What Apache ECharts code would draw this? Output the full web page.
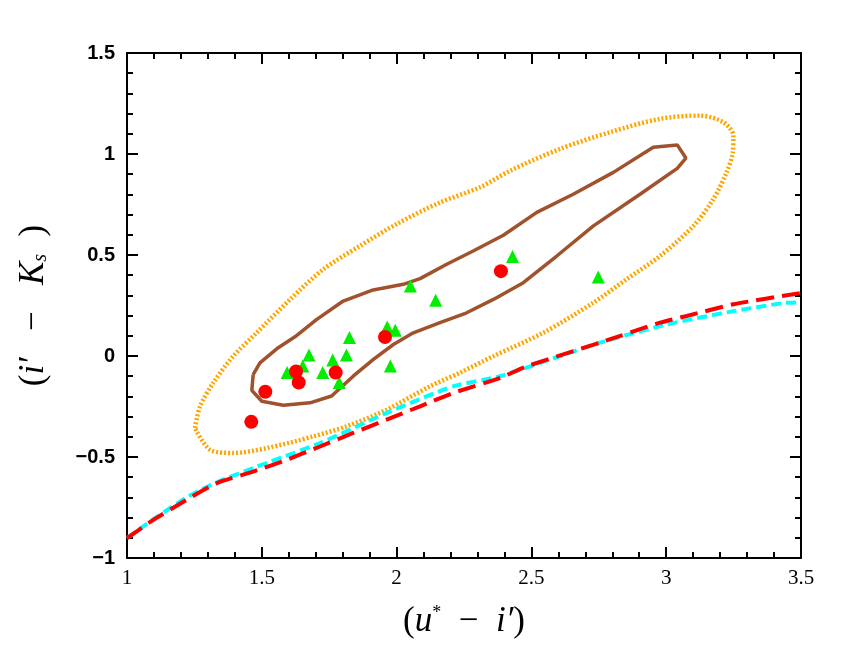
<!DOCTYPE html>
<html>
<head>
<meta charset="utf-8">
<script src="https://cdn.jsdelivr.net/npm/echarts@6/dist/echarts.min.js"></script>
<style>
  html, body { margin: 0; padding: 0; background: #fff; }
  #chart { width: 860px; height: 664px; }
</style>
</head>
<body>
<div id="chart"></div>
<script>
// red circles
var redX = [1.461, 1.513, 1.627, 1.637, 1.774, 1.957, 2.387];
var redY = [-0.326, -0.177, -0.077, -0.131, -0.082, 0.094, 0.420];

// green triangles
var greenX = [1.594, 1.652, 1.675, 1.726, 1.763, 1.814, 1.825, 1.787, 1.965, 1.995, 1.977, 2.051, 2.145, 2.430, 2.748];
var greenY = [-0.082, -0.049, 0.005, -0.082, -0.020, 0.005, 0.092, -0.131, 0.144, 0.128, -0.049, 0.346, 0.276, 0.493, 0.391];

// brown contour (closed)
var contourX = [1.468, 1.493, 1.561, 1.623, 1.704, 1.802, 1.913, 2.025, 2.087, 2.186, 2.284, 2.396, 2.520, 2.655, 2.804, 2.952, 3.041, 3.073, 3.041,
  2.903, 2.730, 2.594, 2.470, 2.359, 2.260, 2.161, 2.062, 1.988, 1.914, 1.839, 1.759, 1.679, 1.580, 1.500, 1.463, 1.468];
var contourY = [-0.092, -0.034, 0.041, 0.095, 0.181, 0.272, 0.327, 0.355, 0.383, 0.454, 0.520, 0.598, 0.711, 0.801, 0.909, 1.033, 1.045, 0.980, 0.929,
  0.801, 0.644, 0.495, 0.363, 0.280, 0.214, 0.165, 0.115, 0.057, -0.017, -0.100, -0.198, -0.232, -0.244, -0.224, -0.170, -0.092];

// orange dotted ellipse (closed)
var ellipseX = [1.252, 1.271, 1.320, 1.394, 1.481, 1.605, 1.728, 1.864, 2.000, 2.161, 2.309, 2.421, 2.606, 2.792, 2.977, 3.125, 3.212, 3.249, 3.247,
  3.224, 3.175, 3.101, 2.977, 2.853, 2.730, 2.544, 2.359, 2.235, 2.124, 1.963, 1.815, 1.691, 1.518, 1.394, 1.308, 1.252];
var ellipseY = [-0.356, -0.249, -0.133, -0.001, 0.115, 0.280, 0.429, 0.545, 0.653, 0.760, 0.835, 0.917, 1.025, 1.108, 1.174, 1.190, 1.157, 1.091, 1.008,
  0.909, 0.777, 0.644, 0.495, 0.380, 0.264, 0.115, -0.001, -0.083, -0.150, -0.266, -0.348, -0.398, -0.456, -0.480, -0.464, -0.356];

// red long-dashed curve
var redLineX = [1.0, 1.098, 1.221, 1.333, 1.468, 1.592, 1.716, 1.839, 1.963, 2.087, 2.210, 2.384, 2.483, 2.754, 2.977, 3.076, 3.249, 3.5];
var redLineY = [-0.902, -0.811, -0.712, -0.629, -0.572, -0.514, -0.448, -0.381, -0.315, -0.249, -0.183, -0.108, -0.051, 0.066, 0.165, 0.198, 0.256, 0.312];

// cyan short-dashed curve
var cyanLineX = [1.0, 1.098, 1.221, 1.333, 1.468, 1.716, 1.963, 2.210, 2.384, 2.754, 3.002, 3.249, 3.435, 3.5];
var cyanLineY = [-0.902, -0.808, -0.700, -0.625, -0.555, -0.431, -0.282, -0.150, -0.100, 0.066, 0.156, 0.222, 0.262, 0.266];

function pairs(xs, ys) {
  return xs.map(function (x, i) { return [x, ys[i]]; });
}

function minus(v) {
  return String(v).replace('-', '\u2212');
}

var chart = echarts.init(document.getElementById('chart'));

var tickBase = {
  axisLine: { show: true, onZero: false, lineStyle: { color: '#000', width: 2 } },
  axisTick: { show: true, inside: true, length: 11, lineStyle: { color: '#000', width: 2 } },
  minorTick: { show: true, splitNumber: 5, length: 6, lineStyle: { color: '#000', width: 2 } },
  splitLine: { show: false }
};

var option = {
  animation: false,
  backgroundColor: '#fff',
  grid: { left: 127, right: 59, top: 53, bottom: 106, containLabel: false },
  xAxis: [
    Object.assign({
      type: 'value', min: 1, max: 3.5, interval: 0.5, position: 'bottom',
      axisLabel: { color: '#000', fontFamily: 'Liberation Serif', fontSize: 21, margin: 10 },
      name: '{p|(}{i|u}{s|*}{p|  \u2212  }{i|i\u2032}{p|)}',
      nameLocation: 'middle', nameGap: 46,
      nameTextStyle: {
        rich: {
          p: { fontFamily: 'Liberation Serif', fontSize: 35, color: '#000' },
          i: { fontFamily: 'Liberation Serif', fontStyle: 'italic', fontSize: 35, color: '#000' },
          s: { fontFamily: 'Liberation Serif', fontSize: 18, color: '#000', verticalAlign: 'top', padding: [0, 0, 12, 0] }
        }
      }
    }, tickBase),
    Object.assign({
      type: 'value', min: 1, max: 3.5, interval: 0.5, position: 'top',
      axisLabel: { show: false }
    }, tickBase)
  ],
  yAxis: [
    Object.assign({
      type: 'value', min: -1, max: 1.5, interval: 0.5, position: 'left',
      axisLabel: { color: '#000', fontFamily: 'Liberation Sans', fontWeight: 'bold', fontSize: 20, margin: 12, formatter: minus },
      name: '{p|(}{i|i\u2032}{p|   \u2212   }{k|K}{s|s}{p|  )}',
      nameLocation: 'middle', nameGap: 76, nameRotate: 90,
      nameTextStyle: {
        rich: {
          p: { fontFamily: 'Liberation Serif', fontSize: 35, color: '#000' },
          i: { fontFamily: 'Liberation Serif', fontStyle: 'italic', fontSize: 35, color: '#000' },
          k: { fontFamily: 'Liberation Serif', fontStyle: 'italic', fontSize: 35, color: '#000' },
          s: { fontFamily: 'Liberation Serif', fontStyle: 'italic', fontSize: 20, color: '#000', padding: [14, 0, 0, 0] }
        }
      }
    }, tickBase),
    Object.assign({
      type: 'value', min: -1, max: 1.5, interval: 0.5, position: 'right',
      axisLabel: { show: false }
    }, tickBase)
  ],
  series: [
    {
      type: 'line', data: pairs(ellipseX, ellipseY), showSymbol: false, symbol: 'none', smooth: 0.3,
      lineStyle: { color: '#ffa500', width: 4.5, type: [2, 2], cap: 'butt' }, z: 2
    },
    {
      type: 'line', data: pairs(cyanLineX, cyanLineY), showSymbol: false, symbol: 'none', smooth: 0.2,
      lineStyle: { color: '#00ffff', width: 4, type: [10, 5], cap: 'butt' }, z: 2
    },
    {
      type: 'line', data: pairs(redLineX, redLineY), showSymbol: false, symbol: 'none', smooth: 0.2,
      lineStyle: { color: '#ff0000', width: 4, type: [18, 8], cap: 'butt' }, z: 3
    },
    {
      type: 'line', data: pairs(contourX, contourY), showSymbol: false, symbol: 'none',
      lineStyle: { color: '#a0522d', width: 3.5 }, z: 3
    },
    {
      type: 'scatter', data: pairs(greenX, greenY), symbol: 'triangle', symbolSize: 13,
      itemStyle: { color: '#00ee00', opacity: 1 }, z: 4
    },
    {
      type: 'scatter', data: pairs(redX, redY), symbol: 'circle', symbolSize: 14,
      itemStyle: { color: '#ff0000', opacity: 1 }, z: 5
    }
  ]
};

chart.setOption(option);
</script>
</body>
</html>
